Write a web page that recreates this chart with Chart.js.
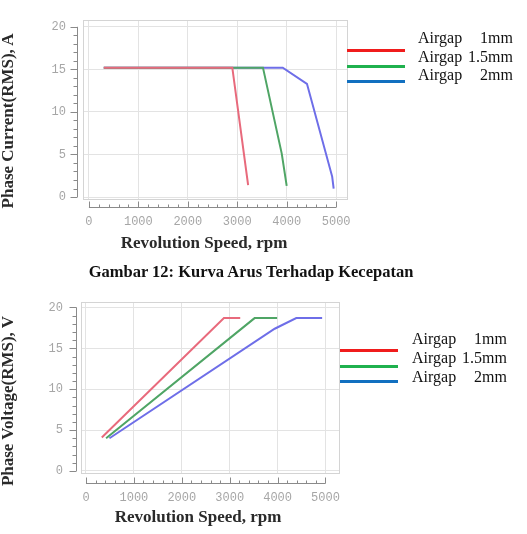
<!DOCTYPE html>
<html>
<head>
<meta charset="utf-8">
<script src="https://cdn.jsdelivr.net/npm/chart.js@4.4.1/dist/chart.umd.min.js"></script>
<style>
  body { margin: 0; background: #fff; }
  #page { position: relative; width: 527px; height: 534px; overflow: hidden; }
  canvas { position: absolute; left: 0; }
  .ttl { position: absolute; font: bold 17px "Liberation Serif", serif; color: #2a2a2a; white-space: nowrap; transform: translate(-50%, -50%); }
  .ytl { transform: translate(-50%, -50%) rotate(-90deg); }
  .cap { position: absolute; font: bold 16.5px "Liberation Serif", serif; color: #111; white-space: nowrap; transform: translate(-50%, -50%); }
  .lgline { position: absolute; height: 3px; width: 58px; }
  .lgtext { position: absolute; width: 95px; display: flex; justify-content: space-between; font: 16px "Liberation Serif", serif; color: #111; line-height: 18px; }
</style>
</head>
<body>
<div id="page">
  <canvas id="curChart" width="350" height="235" style="top:0"></canvas>
  <canvas id="voltChart" width="345" height="250" style="top:280px"></canvas>

  <div class="ttl ytl" style="left:8px; top:121px">Phase Current(RMS), A</div>
  <div class="ttl" style="left:204px; top:243px">Revolution Speed, rpm</div>
  <div class="cap" style="left:251px; top:272px">Gambar 12: Kurva Arus Terhadap Kecepatan</div>
  <div class="ttl ytl" style="left:8px; top:401px">Phase Voltage(RMS), V</div>
  <div class="ttl" style="left:198px; top:517px">Revolution Speed, rpm</div>
  <div id="legends"></div>
</div>
<script>
// axis ticks
const xTicks = [0, 1000, 2000, 3000, 4000, 5000];
const yTicks = [0, 5, 10, 15, 20];

const seriesLabels = ['Airgap 1mm', 'Airgap 1.5mm', 'Airgap 2mm'];
const plotColors = ['#e86a7c', '#4fa565', '#6e6ee8'];
const legendColors = ['#f01c1c', '#1fb14e', '#1270c0'];

// Phase current vs speed
const curRpm1 = [300, 2900, 3220];
const curAmp1 = [15.2, 15.2, 1.4];
const curRpm15 = [300, 3520, 3900, 4000];
const curAmp15 = [15.2, 15.2, 5.1, 1.3];
const curRpm2 = [300, 3920, 4410, 4920, 4950];
const curAmp2 = [15.2, 15.2, 13.3, 2.4, 1.0];

// Phase voltage vs speed
const voltRpm1 = [330, 2880, 3220];
const voltV1 = [4.1, 18.7, 18.7];
const voltRpm15 = [420, 3520, 3990];
const voltV15 = [4.0, 18.7, 18.7];
const voltRpm2 = [490, 3940, 4390, 4930];
const voltV2 = [4.0, 17.4, 18.7, 18.7];

function pts(xs, ys) {
  return xs.map((x, i) => ({ x: x, y: ys[i] }));
}

// frame + offset axis lines with minor ticks
const offsetAxes = {
  id: 'offsetAxes',
  afterDraw(chart, args, opts) {
    const { ctx, chartArea } = chart;
    const x = chart.scales.x, y = chart.scales.y;
    ctx.save();
    ctx.strokeStyle = '#d4d4d4';
    ctx.lineWidth = 1;
    ctx.strokeRect(chartArea.left + 0.5, chartArea.top + 0.5, chartArea.width - 1, chartArea.height - 1);

    ctx.strokeStyle = '#8a8a8a';
    ctx.beginPath();
    const ya = Math.round(chartArea.bottom + opts.gapX) + 0.5;
    ctx.moveTo(x.getPixelForValue(xTicks[0]), ya);
    ctx.lineTo(x.getPixelForValue(xTicks[xTicks.length - 1]), ya);
    for (let v = xTicks[0]; v <= xTicks[xTicks.length - 1]; v += 200) {
      const px = Math.round(x.getPixelForValue(v)) + 0.5;
      ctx.moveTo(px, ya);
      ctx.lineTo(px, ya - (v % 1000 === 0 ? 6 : 3));
    }
    const xa = Math.round(chartArea.left - opts.gapY) + 0.5;
    ctx.moveTo(xa, y.getPixelForValue(yTicks[0]));
    ctx.lineTo(xa, y.getPixelForValue(yTicks[yTicks.length - 1]));
    for (let v = yTicks[0]; v <= yTicks[yTicks.length - 1]; v += 1) {
      const py = Math.round(y.getPixelForValue(v)) + 0.5;
      ctx.moveTo(xa, py);
      ctx.lineTo(xa - (v % 5 === 0 ? 7 : 4), py);
    }
    ctx.stroke();
    ctx.restore();
  }
};

function noPad(s) {
  s.paddingLeft = 0; s.paddingRight = 0; s.paddingTop = 0; s.paddingBottom = 0;
}

function makeChart(id, xs, ys, g) {
  new Chart(document.getElementById(id), {
    type: 'line',
    data: {
      datasets: xs.map((xv, i) => ({
        label: seriesLabels[i],
        data: pts(xv, ys[i]),
        borderColor: plotColors[i],
        borderWidth: 2,
        pointRadius: 0,
        tension: 0,
        fill: false
      }))
    },
    options: {
      responsive: false,
      animation: false,
      devicePixelRatio: 1,
      layout: { padding: { top: g.padTop, right: g.padRight, left: 0, bottom: 0 } },
      plugins: {
        legend: { display: false },
        tooltip: { enabled: false },
        offsetAxes: { gapX: g.gapX, gapY: g.gapY }
      },
      scales: {
        x: {
          type: 'linear',
          min: g.xMin, max: g.xMax,
          afterBuildTicks: s => { s.ticks = xTicks.map(v => ({ value: v })); },
          afterFit: s => { s.height = g.xHeight; noPad(s); },
          grid: { color: '#e3e3e3', drawTicks: false },
          border: { display: false },
          ticks: { padding: g.xPad, color: '#a6a6a6', maxRotation: 0, autoSkip: false,
                   callback: v => String(v),
                   font: { family: 'Liberation Mono', size: 12 } }
        },
        y: {
          min: g.yMin, max: g.yMax,
          afterBuildTicks: s => { s.ticks = yTicks.map(v => ({ value: v })); },
          afterFit: s => { s.width = g.yWidth; noPad(s); },
          grid: { color: '#e3e3e3', drawTicks: false },
          border: { display: false },
          ticks: { padding: g.yPad, color: '#a6a6a6',
                   callback: v => String(v),
                   font: { family: 'Liberation Mono', size: 12 } }
        }
      }
    },
    plugins: [offsetAxes]
  });
}

makeChart('curChart', [curRpm1, curRpm15, curRpm2], [curAmp1, curAmp15, curAmp2], {
  padTop: 20, padRight: 2, xMin: -120, xMax: 5240, yMin: -0.35, yMax: 20.8,
  xHeight: 35, yWidth: 83, xPad: 15, yPad: 17, gapX: 7, gapY: 6
});
makeChart('voltChart', [voltRpm1, voltRpm15, voltRpm2], [voltV1, voltV15, voltV2], {
  padTop: 22, padRight: 5, xMin: -104, xMax: 5303, yMin: -0.37, yMax: 20.67,
  xHeight: 56, yWidth: 81, xPad: 17, yPad: 18, gapX: 9, gapY: 5
});

// legends (HTML, beside each plot)
const legendBoxes = [
  { lineX: 347, lineY: [49, 65, 80], textRight: 513, textY: [38, 57, 75] },
  { lineX: 340, lineY: [349, 365, 380], textRight: 507, textY: [339, 358, 377] }
];
const lg = document.getElementById('legends');
legendBoxes.forEach(b => {
  seriesLabels.forEach((lab, i) => {
    const ln = document.createElement('div');
    ln.className = 'lgline';
    ln.style.left = b.lineX + 'px';
    ln.style.top = b.lineY[i] + 'px';
    ln.style.background = legendColors[i];
    lg.appendChild(ln);
    const parts = lab.split(' ');
    const tx = document.createElement('div');
    tx.className = 'lgtext';
    tx.style.left = (b.textRight - 95) + 'px';
    tx.style.top = (b.textY[i] - 9) + 'px';
    tx.innerHTML = '<span>' + parts[0] + '</span><span>' + parts[1] + '</span>';
    lg.appendChild(tx);
  });
});
</script>
</body>
</html>
